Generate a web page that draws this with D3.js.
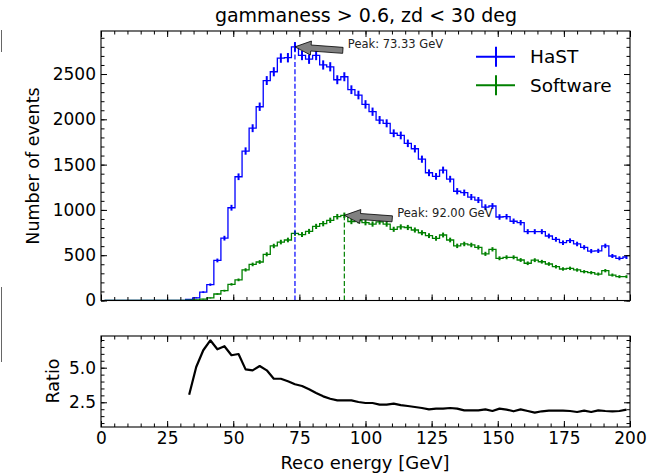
<!DOCTYPE html>
<html>
<head>
<meta charset="utf-8">
<script src="https://cdn.jsdelivr.net/npm/d3@7"></script>
<style>
  body { margin: 0; background: #fff; }
  svg { display: block; font-family: "DejaVu Sans", sans-serif; }
</style>
</head>
<body>
<svg id="chart" width="648" height="475"></svg>
<script>
// histogram: 75 bins between 0 and 200 GeV
var binRange = [0, 200]
var nBins = 75

// counts per bin
var hastCounts = [
  0, 0, 0, 0, 0, 0, 0, 0, 0, 0, 0, 0,
  12, 30, 92, 175, 442, 688, 1024, 1366, 1650, 1902, 2139, 2428, 2525, 2676,
  2680, 2800, 2705, 2664, 2705, 2600, 2580, 2437, 2470, 2327, 2268, 2165, 2084,
  1992, 1956, 1846, 1822, 1735, 1675, 1560, 1410, 1370, 1440, 1340, 1206, 1190,
  1142, 1109, 1030, 1043, 922, 925, 875, 859, 760, 760, 760, 712, 675, 638,
  660, 624, 587, 545, 548, 603, 491, 466, 480
]
var softwareCounts = [
  0, 0, 0, 0, 0, 0, 0, 0, 0, 0, 0, 0,
  4, 7, 15, 28, 72, 108, 178, 228, 338, 398, 425, 510, 602, 645,
  668, 742, 728, 763, 818, 848, 885, 925, 940, 872, 881, 859, 844,
  868, 844, 786, 812, 806, 778, 748, 716, 686, 723, 668, 603, 624,
  613, 587, 515, 565, 466, 477, 477, 447, 411, 445, 428, 403, 373, 348,
  355, 337, 318, 307, 292, 329, 281, 263, 263
]
// ratio HaST / Software, starting at bin 12
var ratioFirstBin = 12
var ratioValues = [
  3.05, 5.05, 6.26, 6.98, 6.33, 6.55, 5.9, 5.99, 4.88, 4.81, 5.12, 4.81, 4.2,
  4.2, 4.02, 3.8, 3.68, 3.44, 3.17, 2.93, 2.76, 2.64, 2.64, 2.64, 2.52, 2.45,
  2.45, 2.33, 2.33, 2.4, 2.3, 2.23, 2.16, 2.09, 1.99, 2.04, 2.04, 2.09, 2.04,
  1.92, 1.92, 1.92, 1.99, 1.87, 2.04, 1.97, 1.85, 1.99, 1.87, 1.75, 1.85, 1.9,
  1.9, 1.9, 1.87, 1.8, 1.9, 1.8, 1.92, 1.87, 1.85, 1.87, 1.97
]

var seriesNames = ['HaST', 'Software']
var seriesColors = ['#0000ff', '#008000']

var xTicks = [0, 25, 50, 75, 100, 125, 150, 175, 200]
var countTicks = [0, 500, 1000, 1500, 2000, 2500]
var ratioTicks = [2.5, 5.0]

var title = 'gammaness > 0.6, zd < 30 deg'

var svg = d3.select('#chart')
var binWidth = (binRange[1] - binRange[0]) / nBins
var centers = d3.range(nBins).map(function (i) { return binRange[0] + (i + 0.5) * binWidth })

var x = d3.scaleLinear().domain(binRange).range([101, 630])
var yTop = d3.scaleLinear().domain([0, 2975]).range([300.5, 31])
var yRatio = d3.scaleLinear().domain([0.715, 7.29]).range([427, 336])

// thin edge left over from the cropped figure
svg.append('line').attr('x1', 1.5).attr('x2', 1.5).attr('y1', 30).attr('y2', 52)
  .attr('stroke', '#666').attr('stroke-width', 1)
svg.append('line').attr('x1', 1.5).attr('x2', 1.5).attr('y1', 287).attr('y2', 362)
  .attr('stroke', '#666').attr('stroke-width', 1)

function frame (yScale) {
  var r = yScale.range()
  svg.append('rect')
    .attr('x', 101).attr('y', r[1]).attr('width', 529).attr('height', r[0] - r[1])
    .attr('fill', 'none').attr('stroke', '#000').attr('stroke-width', 1.1)
}

function ticks (yScale, yMajor, yMinor, yFmt, showX) {
  var r = yScale.range()
  var minorX = d3.range(0, 201, 5)
  var axes = [
    [d3.axisBottom(x), r[0], 0, xTicks, minorX, showX],
    [d3.axisTop(x), r[1], 0, xTicks, minorX, false],
    [d3.axisLeft(yScale), 101, 1, yMajor, yMinor, true],
    [d3.axisRight(yScale), 630, 1, yMajor, yMinor, false]
  ]
  axes.forEach(function (a) {
    var tr = a[2] ? 'translate(' + a[1] + ',0)' : 'translate(0,' + a[1] + ')'
    var minor = svg.append('g').attr('transform', tr)
      .call(a[0].tickValues(a[4]).tickSize(-3.5).tickFormat(''))
    minor.select('.domain').remove()
    var major = svg.append('g').attr('transform', tr)
      .call(a[0].tickValues(a[3]).tickSize(-6).tickPadding(5)
        .tickFormat(a[5] ? (a[2] ? yFmt : d3.format('d')) : ''))
    major.select('.domain').remove()
    major.selectAll('text').attr('font-size', 17).attr('fill', '#000')
      .attr('font-family', '"DejaVu Sans", sans-serif')
    svg.selectAll('.tick line').attr('stroke', '#000').attr('stroke-width', 1)
  })
}

svg.append('clipPath').attr('id', 'clipTop')
  .append('rect').attr('x', 101).attr('y', 31).attr('width', 529).attr('height', 270)

var plot = svg.append('g').attr('clip-path', 'url(#clipTop)')
var stepLine = d3.line().curve(d3.curveStep)
  .x(function (d) { return x(d[0]) })
  .y(function (d) { return yTop(d[1]) })

;[hastCounts, softwareCounts].forEach(function (counts, s) {
  var color = seriesColors[s]
  var pts = counts.map(function (c, i) { return [centers[i], c] })
  plot.append('path').attr('d', stepLine(pts))
    .attr('fill', 'none').attr('stroke', color).attr('stroke-width', 1.3)
  plot.selectAll(null).data(pts.filter(function (d) { return d[1] > 0 })).enter()
    .append('line')
    .attr('x1', function (d) { return x(d[0]) })
    .attr('x2', function (d) { return x(d[0]) })
    .attr('y1', function (d) { return yTop(d[1] - Math.sqrt(d[1])) })
    .attr('y2', function (d) { return yTop(d[1] + Math.sqrt(d[1])) })
    .attr('stroke', color).attr('stroke-width', 2)
})

// peaks
;[hastCounts, softwareCounts].forEach(function (counts, s) {
  var i = d3.maxIndex(counts)
  var px = centers[i]
  var pv = counts[i]
  plot.append('line')
    .attr('x1', x(px)).attr('x2', x(px))
    .attr('y1', yTop(0)).attr('y2', yTop(pv))
    .attr('stroke', seriesColors[s]).attr('stroke-width', 1.2)
    .attr('stroke-dasharray', '5,2.3')

  var tx = x(px); var ty = yTop(pv)
  var textX = x(px + 20)
  var sx = textX - 5; var sy = ty + 3.5
  var dx = tx - sx; var dy = ty - sy
  var len = Math.sqrt(dx * dx + dy * dy)
  var ux = dx / len; var uy = dy / len
  var nx = -uy; var ny = ux
  var hl = 16; var hw = 7; var sw = 3
  var bx = tx - ux * hl; var by = ty - uy * hl
  var arrow = [
    [sx + nx * sw, sy + ny * sw], [bx + nx * sw, by + ny * sw], [bx + nx * hw, by + ny * hw],
    [tx, ty],
    [bx - nx * hw, by - ny * hw], [bx - nx * sw, by - ny * sw], [sx - nx * sw, sy - ny * sw]
  ]
  svg.append('path').attr('d', 'M' + arrow.join('L') + 'Z')
    .attr('fill', '#808080').attr('stroke', '#000').attr('stroke-width', 0.8)
  svg.append('text').attr('x', textX).attr('y', ty + 1.5)
    .attr('font-size', 11.5).attr('fill', '#222')
    .text('Peak: ' + px.toFixed(2) + ' GeV')
})

// top panel: shared x axis, no tick labels
frame(yTop)
ticks(yTop, countTicks, d3.range(0, 2901, 100), d3.format('d'), false)

// ratio panel
var ratioPts = ratioValues.map(function (v, i) { return [centers[ratioFirstBin + i], v] })
svg.append('path')
  .attr('d', d3.line().x(function (d) { return x(d[0]) }).y(function (d) { return yRatio(d[1]) })(ratioPts))
  .attr('fill', 'none').attr('stroke', '#000').attr('stroke-width', 2.2)
  .attr('stroke-linejoin', 'round')

frame(yRatio)
ticks(yRatio, ratioTicks, d3.range(1, 7.01, 0.5), d3.format('.1f'), true)

// legend
seriesNames.forEach(function (name, s) {
  var ly = 56.7 + s * 28.5
  var g = svg.append('g')
  g.append('line').attr('x1', 476).attr('x2', 515).attr('y1', ly).attr('y2', ly)
    .attr('stroke', seriesColors[s]).attr('stroke-width', 2)
  g.append('line').attr('x1', 496).attr('x2', 496).attr('y1', ly - 10).attr('y2', ly + 10)
    .attr('stroke', seriesColors[s]).attr('stroke-width', 2)
  g.append('text').attr('x', 530).attr('y', ly).attr('dy', '0.36em')
    .attr('font-size', 18.5).attr('fill', '#000').text(name)
})

// labels
svg.append('text').attr('x', 366).attr('y', 22).attr('text-anchor', 'middle')
  .attr('font-size', 19).text(title)
svg.append('text').attr('transform', 'translate(39,166) rotate(-90)')
  .attr('text-anchor', 'middle').attr('font-size', 17.5).text('Number of events')
svg.append('text').attr('transform', 'translate(59,381) rotate(-90)')
  .attr('text-anchor', 'middle').attr('font-size', 17.5).text('Ratio')
svg.append('text').attr('x', 365).attr('y', 469).attr('text-anchor', 'middle')
  .attr('font-size', 18).text('Reco energy [GeV]')
</script>
</body>
</html>
